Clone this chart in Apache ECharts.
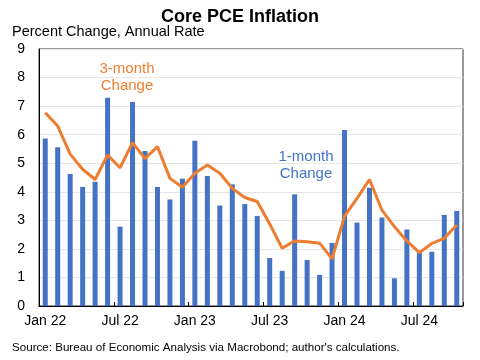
<!DOCTYPE html>
<html><head><meta charset="utf-8">
<script src="https://cdn.jsdelivr.net/npm/echarts@6/dist/echarts.min.js"></script>
<style>html,body{margin:0;padding:0;background:#fff}#c{width:480px;height:360px}</style>
</head><body><div id="c"></div>
<script>
var months = ['Jan 22','Feb 22','Mar 22','Apr 22','May 22','Jun 22','Jul 22','Aug 22','Sep 22','Oct 22','Nov 22','Dec 22',
'Jan 23','Feb 23','Mar 23','Apr 23','May 23','Jun 23','Jul 23','Aug 23','Sep 23','Oct 23','Nov 23','Dec 23',
'Jan 24','Feb 24','Mar 24','Apr 24','May 24','Jun 24','Jul 24','Aug 24','Sep 24','Oct 24'];
var oneMonth = [5.87,5.56,4.62,4.17,4.35,7.29,2.78,7.14,5.43,4.17,3.73,4.46,
5.79,4.55,3.52,4.26,3.57,3.15,1.68,1.23,3.91,1.61,1.09,2.21,
6.16,2.92,4.14,3.10,0.97,2.68,1.87,1.90,3.19,3.33];
var threeMonth = [6.77,6.30,5.32,4.79,4.43,5.29,4.84,5.72,5.16,5.58,4.47,4.16,
4.65,4.94,4.65,4.12,3.80,3.66,2.87,2.02,2.28,2.25,2.20,1.65,
3.15,3.77,4.43,3.36,2.78,2.28,1.87,2.19,2.37,2.84];
var yTicks = [0,1,2,3,4,5,6,7,8,9];

var chart = echarts.init(document.getElementById('c'), null, {renderer:'canvas'});
var FONT = 'Liberation Sans';
chart.setOption({
  animation:false,
  backgroundColor:'#fff',
  textStyle:{fontFamily:FONT},
  title:{text:'Core PCE Inflation',left:'center',top:3,textStyle:{fontFamily:FONT,fontSize:18,fontWeight:'bold',color:'#000'}},
  grid:{left:39,right:17,top:49,bottom:54,show:true,borderColor:'#333',borderWidth:1},
  xAxis:{type:'category',data:months,boundaryGap:true,
    axisLine:{lineStyle:{color:'#000',width:1}},
    axisTick:{show:true,inside:true,length:4,interval:5,lineStyle:{color:'#000'}},
    axisLabel:{interval:5,color:'#000',fontSize:14,margin:8,fontFamily:FONT}},
  yAxis:{type:'value',min:yTicks[0],max:yTicks[yTicks.length-1],interval:1,
    axisLine:{show:true,lineStyle:{color:'#000'}},axisTick:{show:false},
    axisLabel:{color:'#000',fontSize:14,margin:14,fontFamily:FONT},
    splitLine:{lineStyle:{color:'#e6e6e6'}}},
  series:[
    {type:'bar',data:oneMonth,barWidth:5,itemStyle:{color:'#4472C4'}},
    {type:'line',data:threeMonth,symbol:'none',lineStyle:{color:'#ED7D31',width:3},z:3}
  ],
  graphic:[
    {type:'text',left:12,top:24,style:{text:'Percent Change, Annual Rate',fontSize:14.5,fontFamily:FONT,fill:'#000'}},
    {type:'text',left:12,top:342,style:{text:"Source: Bureau of Economic Analysis via Macrobond; author's calculations.",fontSize:11.6,fontFamily:FONT,fill:'#000'}},
    {type:'text',x:127,y:60,style:{text:'3-month\nChange',textAlign:'center',fontSize:15,lineHeight:17,fontFamily:FONT,fill:'#ED7D31'}},
    {type:'text',x:306,y:148,style:{text:'1-month\nChange',textAlign:'center',fontSize:15,lineHeight:17,fontFamily:FONT,fill:'#4472C4'}}
  ]
});
</script></body></html>
